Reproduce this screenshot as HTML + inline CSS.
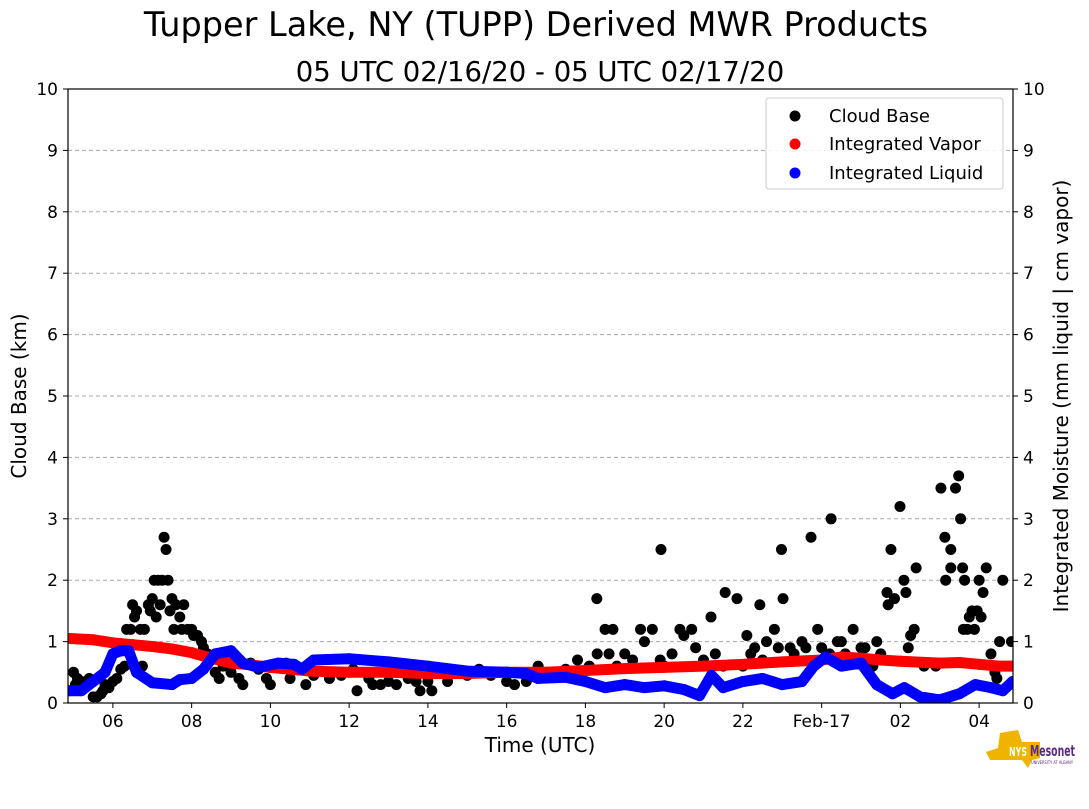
<!DOCTYPE html>
<html><head><meta charset="utf-8"><style>
body{margin:0;background:#fff;}
svg text{font-family:"DejaVu Sans","Liberation Sans",sans-serif;}
</style></head><body>
<svg id="chart" width="1089" height="804" xmlns="http://www.w3.org/2000/svg">
<text x="536" y="36" font-size="33.5" text-anchor="middle">Tupper Lake, NY (TUPP) Derived MWR Products</text>
<text x="540" y="81" font-size="27.5" text-anchor="middle">05 UTC 02/16/20 - 05 UTC 02/17/20</text>
<g id="grid"></g>
<g id="series"></g>
<rect x="68" y="89" width="945" height="614" fill="none" stroke="#000" stroke-width="1.2"/>
<g id="axes"></g>
<text x="540" y="752" font-size="20" text-anchor="middle">Time (UTC)</text>
<text transform="translate(26,396) rotate(-90)" font-size="20" text-anchor="middle">Cloud Base (km)</text>
<text transform="translate(1068,396) rotate(-90)" font-size="20" text-anchor="middle">Integrated Moisture (mm liquid | cm vapor)</text>
<g>
<rect x="766" y="98" width="237" height="91" rx="3" fill="#fff" fill-opacity="0.85" stroke="#ccc"/>
<circle cx="795" cy="116" r="5.5" fill="#000"/><text x="829" y="122" font-size="18">Cloud Base</text>
<circle cx="795" cy="144" r="5.5" fill="red"/><text x="829" y="150" font-size="18">Integrated Vapor</text>
<circle cx="795" cy="173" r="5.5" fill="blue"/><text x="829" y="179" font-size="18">Integrated Liquid</text>
</g>
<g>
<polygon points="1000,733 1018,730 1022,742 1040,742 1040,758 1032,760 1028,768 1022,760 990,760 986,752 998,748" fill="#f0b400"/>
<text x="1009" y="756" font-size="12" fill="#fff" font-weight="bold" font-family="Liberation Sans Narrow, Liberation Sans, sans-serif" textLength="18" lengthAdjust="spacingAndGlyphs">NYS</text>
<text x="1030" y="756" font-size="15" fill="#5b2a86" font-weight="bold" font-family="Liberation Sans Narrow, Liberation Sans, sans-serif" textLength="45" lengthAdjust="spacingAndGlyphs">Mesonet</text>
<text x="1031" y="764" font-size="4" fill="#5b2a86" textLength="42" lengthAdjust="spacingAndGlyphs">UNIVERSITY AT ALBANY</text>
</g>
</svg>
<script>
const xTickHours=[6,8,10,12,14,16,18,20,22,24,26,28];
const xTickLabels=["06","08","10","12","14","16","18","20","22","Feb-17","02","04"];
const yTicks=[0,1,2,3,4,5,6,7,8,9,10];
const vaporT=[4.9,5.5,6,6.5,7,7.5,8,8.5,9,9.5,10,11,12,13,14,15,16,17,18,19,20,21,22,23,24,24.5,25,25.5,26,27,27.5,28,28.5,28.85];
const vaporV=[1.05,1.03,0.98,0.95,0.92,0.88,0.82,0.73,0.65,0.62,0.58,0.52,0.5,0.5,0.48,0.48,0.5,0.5,0.53,0.56,0.58,0.6,0.63,0.67,0.7,0.75,0.73,0.7,0.68,0.65,0.66,0.63,0.6,0.6];
const liquidT=[4.9,5.2,5.5,5.8,6,6.2,6.4,6.6,7,7.5,7.7,8,8.3,8.6,9,9.3,9.7,10.2,10.6,10.8,11.1,12,13,14,15,16,16.5,16.8,17.5,18,18.5,19,19.5,20,20.5,20.9,21.2,21.5,22,22.5,23,23.5,23.8,24.1,24.5,25,25.4,25.8,26.1,26.5,27,27.5,27.9,28.3,28.6,28.85];
const liquidV=[0.2,0.2,0.35,0.5,0.8,0.85,0.85,0.5,0.33,0.3,0.38,0.4,0.55,0.8,0.85,0.65,0.58,0.65,0.63,0.55,0.7,0.72,0.67,0.6,0.52,0.5,0.48,0.4,0.42,0.35,0.25,0.3,0.25,0.28,0.22,0.12,0.45,0.25,0.35,0.4,0.3,0.35,0.6,0.75,0.6,0.65,0.3,0.15,0.25,0.1,0.05,0.15,0.3,0.25,0.2,0.35];
const cloudT=[5.0,5.05,5.1,5.2,5.3,5.4,5.5,5.6,5.7,5.75,5.8,5.9,6.0,6.1,6.2,6.3,6.35,6.45,6.5,6.55,6.6,6.7,6.75,6.8,6.9,6.95,7.0,7.05,7.1,7.15,7.2,7.25,7.3,7.35,7.4,7.45,7.5,7.55,7.6,7.7,7.75,7.8,7.9,8.0,8.05,8.15,8.25,8.3,8.4,8.5,8.6,8.7,8.8,9.0,9.2,9.3,9.5,9.7,9.9,10.0,10.2,10.4,10.5,10.7,10.9,11.1,11.5,11.8,12.1,12.2,12.5,12.6,12.8,13.0,13.2,13.5,13.7,13.8,14.0,14.1,14.5,15.0,15.3,15.6,16.0,16.2,16.5,16.8,17.2,17.5,
17.8,18.1,18.3,18.5,18.29,18.6,18.7,18.8,19.0,19.2,19.4,19.5,19.7,19.9,19.92,20.0,20.2,20.4,20.5,20.7,20.8,21.0,21.19,21.3,21.5,21.55,21.85,22.0,22.1,22.3,22.43,22.6,22.8,22.98,23.02,23.2,23.5,23.73,23.9,24.0,24.24,24.4,24.6,24.8,25.0,25.2,25.4,25.5,25.66,25.69,25.76,25.85,25.99,26.09,26.14,26.26,26.4,26.35,26.2,27.03,27.13,27.15,27.28,27.28,27.4,27.48,27.53,27.58,27.63,27.7,27.75,27.82,27.88,27.95,28.0,28.05,28.1,28.18,28.3,28.4,28.52,28.6,28.82,
22.2,22.5,22.9,23.3,23.6,24.2,24.5,25.1,25.3,26.6,26.9,27.6,28.45];
const cloudV=[0.5,0.3,0.4,0.35,0.3,0.4,0.1,0.1,0.15,0.2,0.3,0.25,0.35,0.4,0.55,0.6,1.2,1.2,1.6,1.4,1.5,1.2,0.6,1.2,1.6,1.5,1.7,2.0,1.4,2.0,1.6,2.0,2.7,2.5,2.0,1.5,1.7,1.2,1.6,1.4,1.2,1.6,1.2,1.2,1.1,1.1,1.0,0.9,0.8,0.7,0.5,0.4,0.6,0.5,0.4,0.3,0.65,0.55,0.4,0.3,0.6,0.65,0.4,0.55,0.3,0.45,0.4,0.45,0.55,0.2,0.4,0.3,0.3,0.35,0.3,0.4,0.35,0.2,0.35,0.2,0.35,0.45,0.55,0.45,0.35,0.3,0.35,0.6,0.45,0.55,
0.7,0.6,0.8,1.2,1.7,0.8,1.2,0.6,0.8,0.7,1.2,1.0,1.2,0.7,2.5,0.6,0.8,1.2,1.1,1.2,0.9,0.7,1.4,0.8,0.6,1.8,1.7,0.6,1.1,0.9,1.6,1.0,1.2,2.5,1.7,0.9,1.0,2.7,1.2,0.9,3.0,1.0,0.8,1.2,0.9,0.5,1.0,0.8,1.8,1.6,2.5,1.7,3.2,2.0,1.8,1.1,2.2,1.2,0.9,3.5,2.7,2.0,2.5,2.2,3.5,3.7,3.0,2.2,2.0,1.2,1.4,1.5,1.2,1.5,2.0,1.4,1.8,2.2,0.8,0.5,1.0,2.0,1.0,
0.8,0.7,0.9,0.8,0.9,0.8,1.0,0.9,0.6,0.6,0.6,1.2,0.4];
const X0=68,X1=1013,Y0=703,Y1=89,TMIN=4.86,TMAX=28.86;
function xs(t){return X0+(t-TMIN)/(TMAX-TMIN)*(X1-X0);}
function ys(v){return Y0-v/10*(Y0-Y1);}
const NS="http://www.w3.org/2000/svg";
function mk(tag,attrs,parent){const e=document.createElementNS(NS,tag);for(const k in attrs)e.setAttribute(k,attrs[k]);parent.appendChild(e);return e;}
const grid=document.getElementById('grid'),axes=document.getElementById('axes'),ser=document.getElementById('series');
yTicks.forEach(v=>{
 const y=ys(v);
 if(v>0&&v<10){const g=mk('line',{x1:X0,x2:X1,y1:y,y2:y,stroke:'#aaa','stroke-dasharray':'4,3'},grid);
 
 }
 mk('line',{x1:X0-5,x2:X0,y1:y,y2:y,stroke:'#000'},axes);
 mk('line',{x1:X1,x2:X1+5,y1:y,y2:y,stroke:'#000'},axes);
 const l=mk('text',{x:X0-10,y:y+6,'font-size':17,'text-anchor':'end'},axes);l.textContent=v;
 
 
 const r=mk('text',{x:X1+10,y:y+6,'font-size':17},axes);r.textContent=v;
 
 
});
xTickHours.forEach((h,i)=>{
 const x=xs(h);
 mk('line',{x1:x,x2:x,y1:Y0,y2:Y0+5,stroke:'#000'},axes);
 const t=mk('text',{x:x,y:Y0+24,'font-size':17,'text-anchor':'middle'},axes);t.textContent=xTickLabels[i];
 
 
});
const clip=mk('clipPath',{id:'pc'},ser);mk('rect',{x:X0,y:Y1,width:X1-X0,height:Y0-Y1},clip);
const g=mk('g',{'clip-path':'url(#pc)'},ser);
const cg=mk('g',{},g);


cloudT.forEach((t,i)=>{const c=mk('circle',{cx:xs(t),cy:ys(cloudV[i]),r:5.5,fill:'#000'},cg);
 
 });
function lineSeries(T,V,col,name){
 const sg=mk('g',{},g);
 
 
 const pts=T.map((t,i)=>xs(t)+','+ys(V[i])).join(' ');
 mk('polyline',{points:pts,fill:'none',stroke:col,'stroke-width':11,'stroke-linejoin':'round','stroke-linecap':'round'},sg);
 T.forEach((t,i)=>{const c=mk('circle',{cx:xs(t),cy:ys(V[i]),r:5.5,fill:col},sg);
 
 });
}
lineSeries(vaporT,vaporV,'red','integrated-vapor');
lineSeries(liquidT,liquidV,'blue','integrated-liquid');
</script>
</body></html>
